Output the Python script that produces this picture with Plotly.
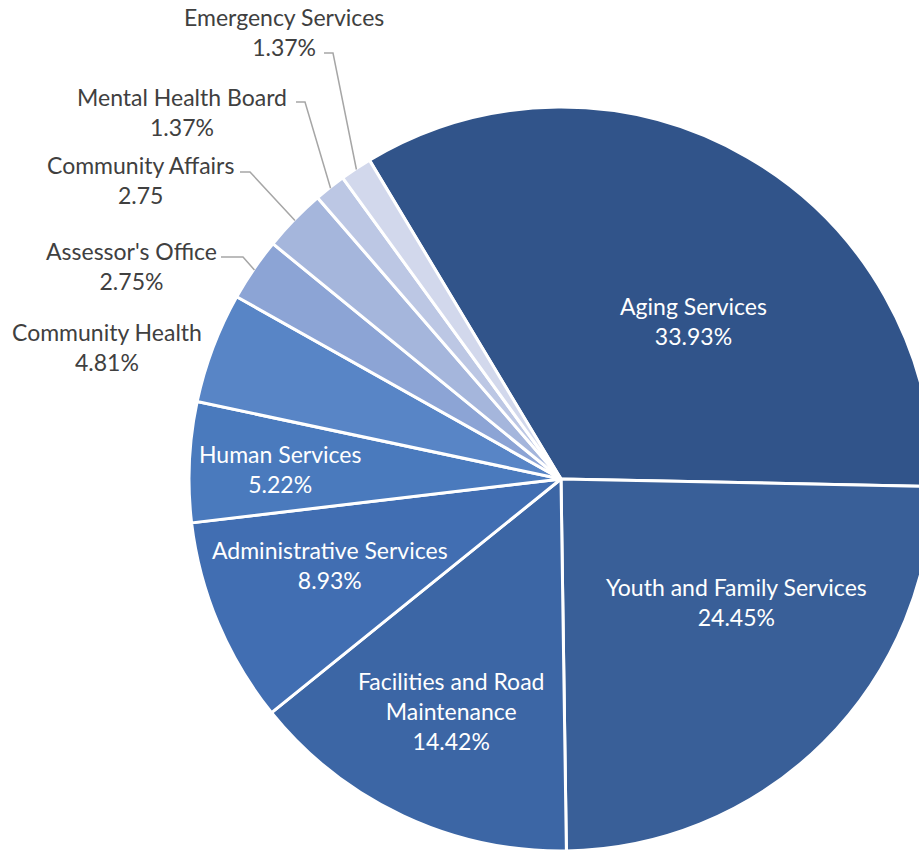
import math
import plotly.graph_objects as go

# Budget share by department (percent)
departments = [
    "Aging Services",
    "Youth and Family Services",
    "Facilities and Road Maintenance",
    "Administrative Services",
    "Human Services",
    "Community Health",
    "Assessor's Office",
    "Community Affairs",
    "Mental Health Board",
    "Emergency Services",
]
shares = [33.93, 24.45, 14.42, 8.93, 5.22, 4.81, 2.75, 2.75, 1.37, 1.37]
# Label text as printed (Community Affairs has no percent sign)
share_labels = ["33.93%", "24.45%", "14.42%", "8.93%", "5.22%",
                "4.81%", "2.75%", "2.75", "1.37%", "1.37%"]
name_labels = ["Aging Services", "Youth and Family Services",
               "Facilities and Road<br>Maintenance", "Administrative Services",
               "Human Services", "Community Health", "Assessor's Office",
               "Community Affairs", "Mental Health Board", "Emergency Services"]

colors = ["#31548A", "#395F98", "#3C66A5", "#416EB2", "#4A7ABD",
          "#5885C6", "#8CA4D5", "#A5B6DC", "#BCC7E4", "#D2D8EC"]

# Page geometry (pixels)
W, H = 940, 860
CX, CY, R = 561, 479, 372
ROTATION = -31

FONT = "Lato, 'Open Sans', sans-serif"
FONT_SIZE = 23


def px(x, y):
    return x / W, 1 - y / H


fig = go.Figure(go.Pie(
    labels=departments,
    values=shares,
    sort=False,
    direction="clockwise",
    rotation=ROTATION,
    marker=dict(colors=colors, line=dict(color="white", width=3)),
    textinfo="none",
    hoverinfo="label+percent",
    showlegend=False,
    domain=dict(x=[(CX - R) / W, (CX + R) / W],
                y=[1 - (CY + R) / H, 1 - (CY - R) / H]),
))

# Label placement: (centre x, centre y, inside?)
label_pos = {
    "Aging Services": (693, 321, True),
    "Youth and Family Services": (736, 602, True),
    "Facilities and Road Maintenance": (451, 711, True),
    "Administrative Services": (330, 565, True),
    "Human Services": (280, 469, True),
    "Community Health": (107, 347, False),
    "Assessor's Office": (131, 266, False),
    "Community Affairs": (140, 180, False),
    "Mental Health Board": (182, 112, False),
    "Emergency Services": (284, 32, False),
}

# Leader line start (end of text) and elbow x for outside labels
leader = {
    "Assessor's Office": (221, 257, 243),
    "Community Affairs": (240, 172, 250),
    "Mental Health Board": (296, 102, 305),
    "Emergency Services": (324, 53, 333),
}

annotations = []
shapes = []
total = sum(shares)
cum = 0.0
for dep, val, nm, sl in zip(departments, shares, name_labels, share_labels):
    mid = ROTATION + (cum + val / 2) / total * 360
    cum += val
    x, y, inside = label_pos[dep]
    ax, ay = px(x, y)
    annotations.append(dict(
        x=ax, y=ay, xref="paper", yref="paper",
        text=f"{nm}<br>{sl}", showarrow=False,
        xanchor="center", yanchor="middle", align="center",
        font=dict(family=FONT, size=FONT_SIZE,
                  color="white" if inside else "#404040"),
    ))
    if dep in leader:
        sx, sy, ex = leader[dep]
        tx = CX + (R - 1) * math.sin(math.radians(mid))
        ty = CY - (R - 1) * math.cos(math.radians(mid))
        p0, p1, p2 = px(sx, sy), px(ex, sy), px(tx, ty)
        shapes.append(dict(
            type="path", xref="paper", yref="paper",
            path=f"M {p0[0]} {p0[1]} L {p1[0]} {p1[1]} L {p2[0]} {p2[1]}",
            line=dict(color="#A6A6A6", width=1.5),
        ))

fig.update_layout(
    width=W, height=H, autosize=False,
    margin=dict(l=0, r=0, t=0, b=0),
    paper_bgcolor="white", plot_bgcolor="white",
    annotations=annotations, shapes=shapes,
)

fig.write_html("out.html", config={"displayModeBar": False},
               post_script="document.body.style.overflow='hidden';")
